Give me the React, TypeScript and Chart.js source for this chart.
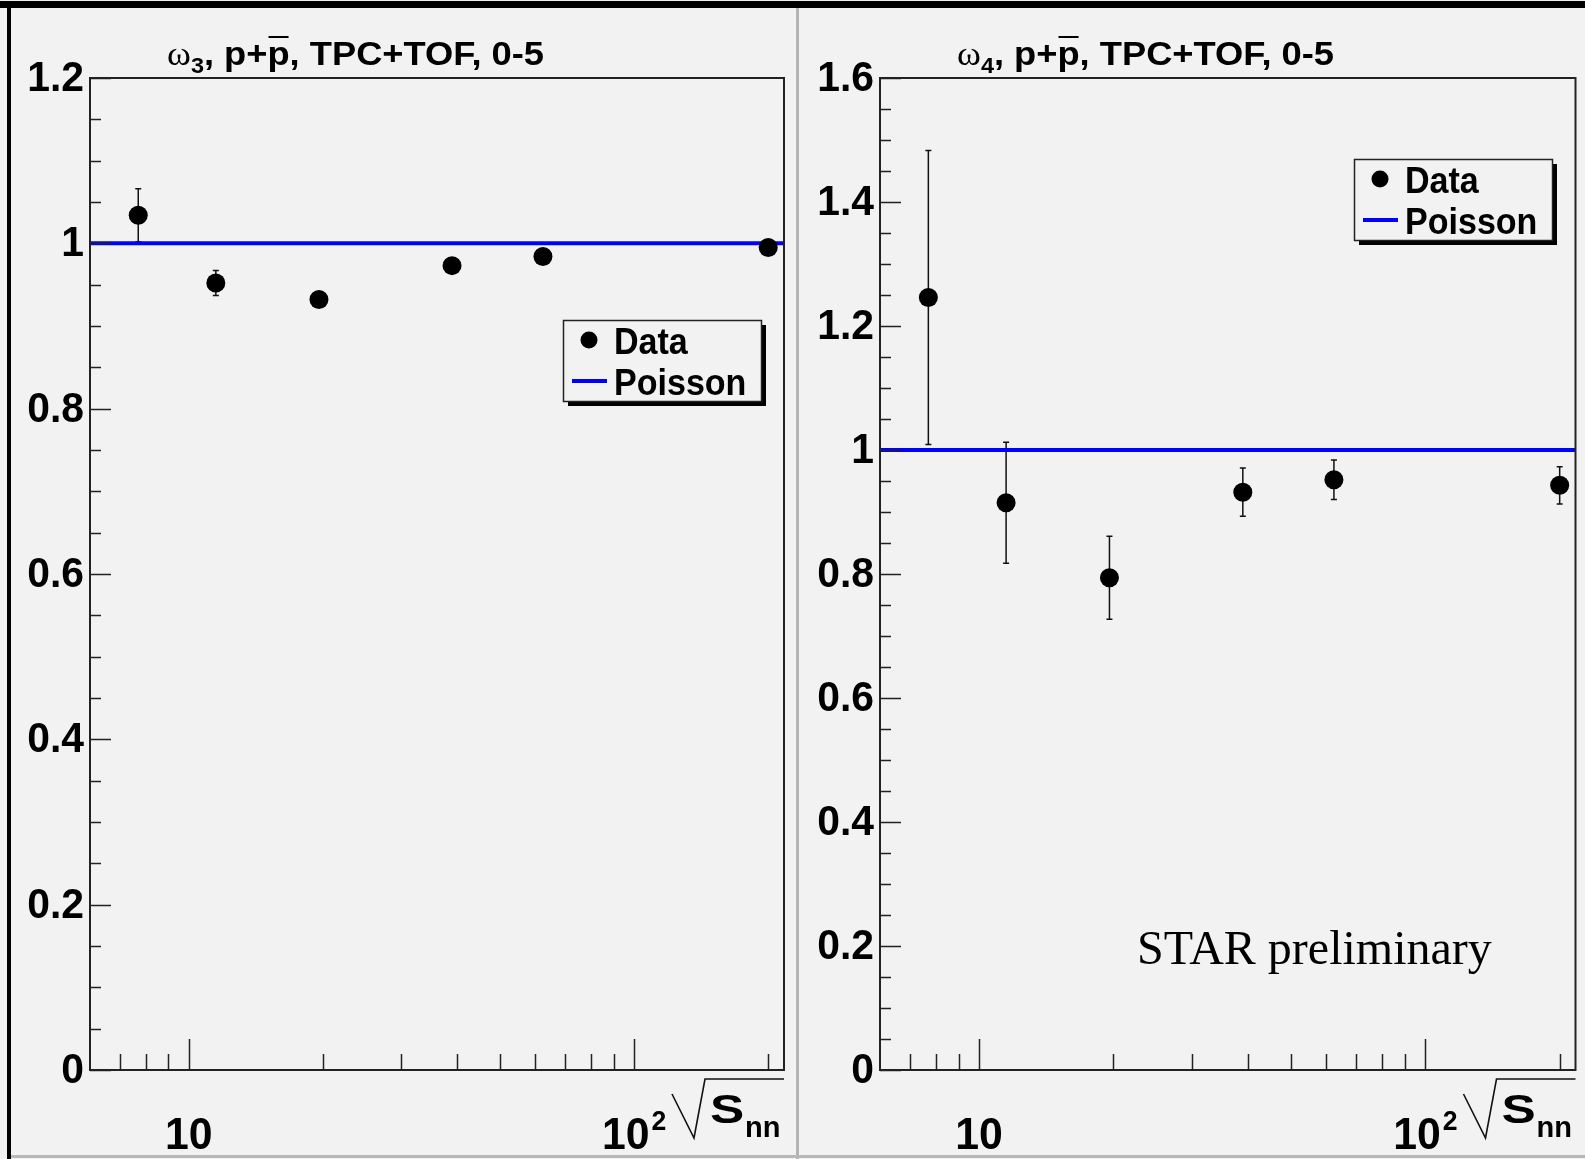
import React, { useEffect, useRef } from "react";
import { Chart, registerables } from "chart.js";
Chart.register(...registerables);

// ---------- data ----------
const energies = [7.7, 11.5, 19.6, 39, 62.4, 200];
const omega3 = [1.034, 0.952, 0.932, 0.973, 0.984, 0.995];
const omega3Err = [0.032, 0.015, 0.007, 0.006, 0.005, 0.004];
const omega4 = [1.246, 0.915, 0.794, 0.932, 0.952, 0.943];
const omega4Err = [0.237, 0.0975, 0.067, 0.039, 0.032, 0.03];
const poissonValue = 1;
const xRange = [6, 217];
const xMajorTicks = [10, 100];
const xMajorLabels = [["10", ""], ["10", "2"]];
const xMinorTicks = [7, 8, 9, 20, 30, 40, 50, 60, 70, 80, 90, 200];
const yTicksLeft = [0, 0.2, 0.4, 0.6, 0.8, 1, 1.2];
const yLabelsLeft = ["0", "0.2", "0.4", "0.6", "0.8", "1", "1.2"];
const yTicksRight = [0, 0.2, 0.4, 0.6, 0.8, 1, 1.2, 1.4, 1.6];
const yLabelsRight = ["0", "0.2", "0.4", "0.6", "0.8", "1", "1.2", "1.4", "1.6"];
const yMinorStep = 0.05;
const legendLabels = ["Data", "Poisson"];

const SANS = '"Liberation Sans", Arial, sans-serif';
const SERIF = '"Liberation Serif", "Times New Roman", serif';
const BG = "#f2f2f2";

type PanelCfg = {
  values: number[];
  errors: number[];
  yMax: number;
  yTicks: number[];
  yLabels: string[];
  sub: string;
  legend: { x: number; y: number };
  star?: { x: number; y: number };
  padding: { left: number; right: number; top: number; bottom: number };
};

function text(
  ctx: CanvasRenderingContext2D,
  t: string,
  x: number,
  y: number,
  font: string,
  sx: number,
  align: "left" | "right" | "center" = "left",
  baseline: CanvasTextBaseline = "alphabetic"
) {
  ctx.save();
  ctx.font = font;
  ctx.textAlign = align;
  ctx.textBaseline = baseline;
  ctx.translate(x, y);
  ctx.scale(sx, 1);
  ctx.fillText(t, 0, 0);
  ctx.restore();
}

function drawTitle(ctx: CanvasRenderingContext2D, x: number, base: number, sub: string, targetW: number) {
  const parts = [
    { t: "\u03c9", font: `34px ${SERIF}`, dy: 0, over: false },
    { t: sub, font: `bold 22px ${SANS}`, dy: 8, over: false },
    { t: ", p+", font: `bold 34px ${SANS}`, dy: 0, over: false },
    { t: "p", font: `bold 34px ${SANS}`, dy: 0, over: true },
    { t: ", TPC+TOF, 0-5", font: `bold 34px ${SANS}`, dy: 0, over: false },
  ];
  let total = 0;
  const widths: number[] = [];
  for (const p of parts) {
    ctx.font = p.font;
    const w = ctx.measureText(p.t).width;
    widths.push(w);
    total += w;
  }
  const s = targetW / total;
  ctx.save();
  ctx.translate(x, base);
  ctx.scale(s, 1);
  ctx.fillStyle = "#000";
  ctx.textBaseline = "alphabetic";
  ctx.textAlign = "left";
  let cx = 0;
  parts.forEach((p, i) => {
    ctx.font = p.font;
    ctx.fillText(p.t, cx, p.dy);
    if (p.over) {
      ctx.strokeStyle = "#000";
      ctx.lineWidth = 2;
      ctx.beginPath();
      ctx.moveTo(cx + 1, -28);
      ctx.lineTo(cx + widths[i] - 1, -28);
      ctx.stroke();
    }
    cx += widths[i];
  });
  ctx.restore();
}

function makePlugin(cfg: PanelCfg) {
  return {
    id: "rootStyle",
    beforeDatasetsDraw(chart: any) {
      const ctx: CanvasRenderingContext2D = chart.ctx;
      const xs = chart.scales.x;
      const ys = chart.scales.y;
      ctx.save();
      ctx.strokeStyle = "#111";
      ctx.lineWidth = 1.5;
      energies.forEach((e, i) => {
        const px = xs.getPixelForValue(e);
        const top = ys.getPixelForValue(cfg.values[i] + cfg.errors[i]);
        const bot = ys.getPixelForValue(cfg.values[i] - cfg.errors[i]);
        ctx.beginPath();
        ctx.moveTo(px, top);
        ctx.lineTo(px, bot);
        ctx.moveTo(px - 3, top);
        ctx.lineTo(px + 3, top);
        ctx.moveTo(px - 3, bot);
        ctx.lineTo(px + 3, bot);
        ctx.stroke();
      });
      ctx.restore();
    },
    afterDraw(chart: any) {
      const ctx: CanvasRenderingContext2D = chart.ctx;
      const a = chart.chartArea;
      const xs = chart.scales.x;
      const ys = chart.scales.y;
      ctx.save();
      // frame
      ctx.strokeStyle = "#222";
      ctx.lineWidth = 2;
      ctx.strokeRect(a.left, a.top, a.right - a.left, a.bottom - a.top);
      // y ticks
      ctx.lineWidth = 1.5;
      ctx.beginPath();
      for (let v = 0; v <= cfg.yMax + 1e-9; v += yMinorStep) {
        const py = Math.round(ys.getPixelForValue(v)) + 0.5;
        const major = cfg.yTicks.some((t) => Math.abs(t - v) < 1e-6);
        ctx.moveTo(a.left, py);
        ctx.lineTo(a.left + (major ? 21 : 11), py);
      }
      // x ticks
      xMajorTicks.forEach((t) => {
        const px = Math.round(xs.getPixelForValue(t)) + 0.5;
        ctx.moveTo(px, a.bottom);
        ctx.lineTo(px, a.bottom - 31);
      });
      xMinorTicks.forEach((t) => {
        const px = Math.round(xs.getPixelForValue(t)) + 0.5;
        ctx.moveTo(px, a.bottom);
        ctx.lineTo(px, a.bottom - 16);
      });
      ctx.stroke();
      // y labels
      ctx.fillStyle = "#000";
      cfg.yTicks.forEach((t, i) => {
        text(ctx, cfg.yLabels[i], a.left - 6, ys.getPixelForValue(t) + 1, `bold 43px ${SANS}`, 0.95, "right", "middle");
      });
      // x labels
      xMajorTicks.forEach((t, i) => {
        const [main, sup] = xMajorLabels[i];
        const sx = 0.95;
        ctx.font = `bold 45px ${SANS}`;
        const w1 = ctx.measureText(main).width * sx;
        ctx.font = `bold 28px ${SANS}`;
        const w2 = sup ? ctx.measureText(sup).width * sx + 2 : 0;
        const px = xs.getPixelForValue(t);
        const x0 = px - (w1 + w2) / 2;
        text(ctx, main, x0, 1149, `bold 45px ${SANS}`, sx);
        if (sup) text(ctx, sup, x0 + w1 + 2, 1130, `bold 28px ${SANS}`, sx);
      });
      // sqrt(s_nn) axis title
      const R = a.right;
      ctx.strokeStyle = "#111";
      ctx.lineWidth = 1.6;
      ctx.beginPath();
      ctx.moveTo(R - 112, 1094);
      ctx.lineTo(R - 90, 1138);
      ctx.lineTo(R - 79, 1079);
      ctx.lineTo(R, 1079);
      ctx.stroke();
      text(ctx, "S", R - 74, 1123, `bold 41px ${SANS}`, 1.25);
      text(ctx, "nn", R - 39, 1137, `bold 29px ${SANS}`, 1.0);
      // title
      drawTitle(ctx, a.left + 77, 65, cfg.sub, 377);
      // legend
      const L = cfg.legend;
      const lw = 198, lh = 81;
      ctx.fillStyle = "#000";
      ctx.fillRect(L.x + 5, L.y + 5, lw, lh);
      ctx.fillStyle = BG;
      ctx.fillRect(L.x, L.y, lw, lh);
      ctx.strokeStyle = "#222";
      ctx.lineWidth = 1.5;
      ctx.strokeRect(L.x + 0.5, L.y + 0.5, lw, lh);
      ctx.fillStyle = "#000";
      ctx.beginPath();
      ctx.arc(L.x + 26, L.y + 20, 8.5, 0, Math.PI * 2);
      ctx.fill();
      ctx.strokeStyle = "#0000ff";
      ctx.lineWidth = 4;
      ctx.beginPath();
      ctx.moveTo(L.x + 9, L.y + 61);
      ctx.lineTo(L.x + 44, L.y + 61);
      ctx.stroke();
      ctx.fillStyle = "#000";
      text(ctx, legendLabels[0], L.x + 51, L.y + 34, `bold 37px ${SANS}`, 0.92);
      text(ctx, legendLabels[1], L.x + 51, L.y + 75, `bold 37px ${SANS}`, 0.92);
      if (cfg.star) {
        text(ctx, "STAR preliminary", cfg.star.x, cfg.star.y, `48px ${SERIF}`, 1);
      }
      ctx.restore();
    },
  };
}

function Panel({ cfg, width, left }: { cfg: PanelCfg; width: number; left: number }) {
  const ref = useRef<HTMLCanvasElement | null>(null);
  useEffect(() => {
    if (!ref.current) return;
    const chart = new Chart(ref.current, {
      type: "scatter",
      data: {
        datasets: [
          {
            type: "scatter",
            label: legendLabels[0],
            data: energies.map((e, i) => ({ x: e, y: cfg.values[i] })),
            backgroundColor: "#000",
            borderColor: "#000",
            borderWidth: 0,
            pointRadius: 9.5,
            pointHoverRadius: 9.5,
            order: 0,
          },
          {
            type: "line",
            label: legendLabels[1],
            data: [
              { x: xRange[0], y: poissonValue },
              { x: xRange[1], y: poissonValue },
            ],
            borderColor: "#0000ff",
            borderWidth: 4,
            pointRadius: 0,
            showLine: true,
            fill: false,
            order: 1,
          },
        ],
      } as any,
      options: {
        animation: false,
        responsive: false,
        maintainAspectRatio: false,
        devicePixelRatio: 1,
        layout: { padding: cfg.padding },
        plugins: { legend: { display: false }, tooltip: { enabled: false }, title: { display: false } },
        scales: {
          x: { type: "logarithmic", min: xRange[0], max: xRange[1], display: false },
          y: { type: "linear", min: 0, max: cfg.yMax, display: false },
        },
      } as any,
      plugins: [makePlugin(cfg)],
    });
    return () => chart.destroy();
  }, []);
  return (
    <canvas
      ref={ref}
      width={width}
      height={1159}
      style={{ position: "absolute", left, top: 0, width, height: 1159 }}
    />
  );
}

const leftCfg: PanelCfg = {
  values: omega3,
  errors: omega3Err,
  yMax: 1.2,
  yTicks: yTicksLeft,
  yLabels: yLabelsLeft,
  sub: "3",
  legend: { x: 563, y: 320 },
  padding: { left: 90, right: 13, top: 78, bottom: 89 },
};
const rightCfg: PanelCfg = {
  values: omega4,
  errors: omega4Err,
  yMax: 1.6,
  yTicks: yTicksRight,
  yLabels: yLabelsRight,
  sub: "4",
  legend: { x: 554, y: 159 },
  star: { x: 337, y: 964 },
  padding: { left: 80, right: 9, top: 78, bottom: 89 },
};

export default function App() {
  useEffect(() => {
    document.body.style.margin = "0";
    document.body.style.background = BG;
  }, []);
  return (
    <div style={{ position: "relative", width: 1585, height: 1159, background: BG, overflow: "hidden" }}>
      <Panel cfg={leftCfg} width={797} left={0} />
      <Panel cfg={rightCfg} width={785} left={800} />
      <div style={{ position: "absolute", left: 0, top: 1, width: 1585, height: 7, background: "#000" }} />
      <div style={{ position: "absolute", left: 7, top: 1, width: 4, height: 1158, background: "#000" }} />
      <div style={{ position: "absolute", left: 796, top: 8, width: 3, height: 1151, background: "#b4b4b4" }} />
      <div style={{ position: "absolute", left: 11, top: 1155, width: 1574, height: 3, background: "#b8b8b8" }} />
    </div>
  );
}
